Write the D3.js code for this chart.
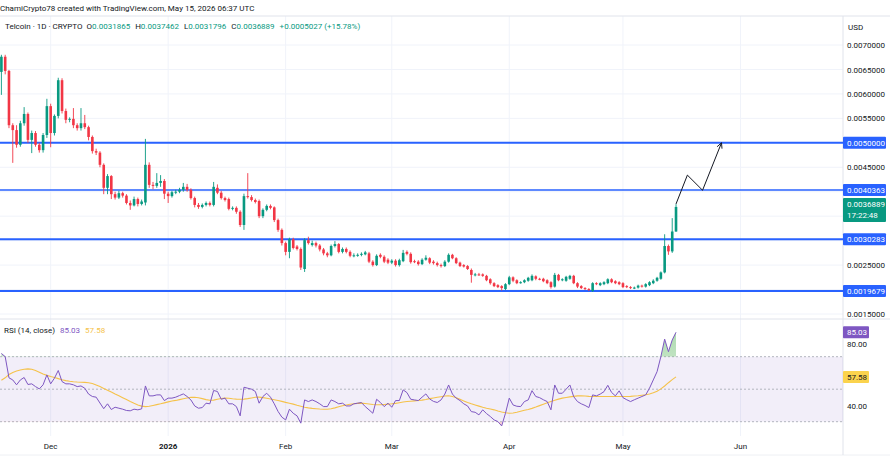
<!DOCTYPE html>
<html>
<head>
<meta charset="utf-8">
<script src="https://cdn.jsdelivr.net/npm/d3@7"></script>
<style>
    body { margin: 0; background: #ffffff; }
    svg { display: block; font-family: Roboto, "Liberation Sans", sans-serif; }
</style>
</head>
<body>
<div id="graf"></div>
<script>
// Datos (Telcoin, velas diarias)
const fechaInicio = '2025-11-18'

// [apertura, máximo, mínimo, cierre]
const velas = [
    [0.00645, 0.00680, 0.00598, 0.00676], [0.00676, 0.00680, 0.00640, 0.00647], [0.00647, 0.00649, 0.00530, 0.00536],
    [0.00536, 0.00540, 0.00459, 0.00526], [0.00526, 0.00536, 0.00490, 0.00496], [0.00496, 0.00545, 0.00492, 0.00540],
    [0.00540, 0.00573, 0.00535, 0.00559], [0.00559, 0.00562, 0.00500, 0.00506], [0.00506, 0.00525, 0.00479, 0.00520],
    [0.00520, 0.00524, 0.00492, 0.00496], [0.00496, 0.00500, 0.00480, 0.00485], [0.00485, 0.00520, 0.00480, 0.00516],
    [0.00516, 0.00590, 0.00510, 0.00575], [0.00575, 0.00580, 0.00491, 0.00520], [0.00520, 0.00558, 0.00515, 0.00555],
    [0.00555, 0.00633, 0.00550, 0.00628], [0.00628, 0.00632, 0.00560, 0.00565], [0.00565, 0.00570, 0.00540, 0.00547],
    [0.00547, 0.00552, 0.00542, 0.00549], [0.00549, 0.00571, 0.00530, 0.00536], [0.00536, 0.00540, 0.00525, 0.00530],
    [0.00530, 0.00571, 0.00525, 0.00540], [0.00540, 0.00557, 0.00528, 0.00532], [0.00532, 0.00535, 0.00505, 0.00512],
    [0.00512, 0.00515, 0.00478, 0.00483], [0.00483, 0.00488, 0.00475, 0.00480], [0.00480, 0.00483, 0.00450, 0.00455],
    [0.00455, 0.00458, 0.00395, 0.00408], [0.00408, 0.00436, 0.00395, 0.00432], [0.00432, 0.00434, 0.00385, 0.00395],
    [0.00395, 0.00400, 0.00384, 0.00388], [0.00388, 0.00402, 0.00385, 0.00397], [0.00397, 0.00400, 0.00388, 0.00392],
    [0.00392, 0.00395, 0.00374, 0.00377], [0.00377, 0.00382, 0.00363, 0.00372], [0.00372, 0.00390, 0.00370, 0.00385],
    [0.00385, 0.00388, 0.00370, 0.00375], [0.00375, 0.00384, 0.00372, 0.00380], [0.00378, 0.00508, 0.00372, 0.00455],
    [0.00455, 0.00460, 0.00408, 0.00414], [0.00414, 0.00420, 0.00405, 0.00412], [0.00412, 0.00438, 0.00408, 0.00418],
    [0.00418, 0.00434, 0.00410, 0.00422], [0.00422, 0.00426, 0.00385, 0.00396], [0.00396, 0.00400, 0.00377, 0.00391],
    [0.00391, 0.00402, 0.00388, 0.00399], [0.00399, 0.00404, 0.00395, 0.00400], [0.00400, 0.00408, 0.00397, 0.00404],
    [0.00404, 0.00418, 0.00400, 0.00410], [0.00410, 0.00416, 0.00400, 0.00404], [0.00404, 0.00407, 0.00384, 0.00387],
    [0.00387, 0.00390, 0.00368, 0.00373], [0.00373, 0.00377, 0.00365, 0.00369], [0.00369, 0.00376, 0.00366, 0.00373],
    [0.00373, 0.00380, 0.00370, 0.00377], [0.00377, 0.00380, 0.00370, 0.00373], [0.00373, 0.00420, 0.00370, 0.00410],
    [0.00408, 0.00415, 0.00395, 0.00398], [0.00398, 0.00402, 0.00384, 0.00387], [0.00387, 0.00390, 0.00380, 0.00383],
    [0.00385, 0.00388, 0.00362, 0.00365], [0.00365, 0.00370, 0.00362, 0.00367], [0.00367, 0.00370, 0.00355, 0.00359],
    [0.00359, 0.00362, 0.00328, 0.00332], [0.00332, 0.00396, 0.00322, 0.00391], [0.00391, 0.00438, 0.00386, 0.00389],
    [0.00389, 0.00393, 0.00380, 0.00383], [0.00383, 0.00386, 0.00376, 0.00379], [0.00381, 0.00384, 0.00346, 0.00350],
    [0.00350, 0.00366, 0.00346, 0.00363], [0.00363, 0.00374, 0.00360, 0.00371], [0.00371, 0.00374, 0.00364, 0.00367],
    [0.00368, 0.00370, 0.00338, 0.00342], [0.00342, 0.00345, 0.00318, 0.00322], [0.00322, 0.00325, 0.00290, 0.00295],
    [0.00295, 0.00298, 0.00270, 0.00277], [0.00277, 0.00306, 0.00264, 0.00303], [0.00303, 0.00306, 0.00282, 0.00285],
    [0.00288, 0.00291, 0.00280, 0.00283], [0.00283, 0.00286, 0.00240, 0.00245], [0.00242, 0.00305, 0.00236, 0.00301],
    [0.00301, 0.00308, 0.00292, 0.00295], [0.00291, 0.00300, 0.00288, 0.00295], [0.00295, 0.00298, 0.00286, 0.00290],
    [0.00290, 0.00293, 0.00278, 0.00282], [0.00282, 0.00285, 0.00270, 0.00274], [0.00274, 0.00277, 0.00266, 0.00270],
    [0.00270, 0.00292, 0.00268, 0.00289], [0.00289, 0.00299, 0.00286, 0.00293], [0.00293, 0.00295, 0.00274, 0.00277],
    [0.00277, 0.00286, 0.00274, 0.00283], [0.00283, 0.00286, 0.00274, 0.00277], [0.00277, 0.00280, 0.00266, 0.00269],
    [0.00269, 0.00274, 0.00266, 0.00270], [0.00270, 0.00274, 0.00267, 0.00271], [0.00271, 0.00276, 0.00268, 0.00273],
    [0.00272, 0.00279, 0.00270, 0.00276], [0.00274, 0.00277, 0.00254, 0.00257], [0.00257, 0.00260, 0.00247, 0.00250],
    [0.00250, 0.00272, 0.00248, 0.00269], [0.00271, 0.00274, 0.00264, 0.00267], [0.00267, 0.00270, 0.00254, 0.00257],
    [0.00261, 0.00264, 0.00252, 0.00255], [0.00255, 0.00262, 0.00252, 0.00259], [0.00259, 0.00262, 0.00247, 0.00250],
    [0.00250, 0.00263, 0.00247, 0.00260], [0.00258, 0.00281, 0.00256, 0.00275], [0.00277, 0.00280, 0.00270, 0.00273],
    [0.00273, 0.00276, 0.00253, 0.00256], [0.00258, 0.00261, 0.00254, 0.00256], [0.00257, 0.00260, 0.00249, 0.00252],
    [0.00252, 0.00264, 0.00250, 0.00261], [0.00261, 0.00270, 0.00259, 0.00265], [0.00264, 0.00266, 0.00252, 0.00255],
    [0.00257, 0.00260, 0.00251, 0.00254], [0.00254, 0.00257, 0.00247, 0.00250], [0.00250, 0.00253, 0.00245, 0.00248],
    [0.00248, 0.00260, 0.00246, 0.00257], [0.00257, 0.00274, 0.00255, 0.00271], [0.00271, 0.00273, 0.00262, 0.00264],
    [0.00264, 0.00266, 0.00252, 0.00254], [0.00255, 0.00257, 0.00246, 0.00248], [0.00250, 0.00252, 0.00245, 0.00247],
    [0.00248, 0.00250, 0.00240, 0.00242], [0.00240, 0.00243, 0.00214, 0.00230], [0.00230, 0.00234, 0.00227, 0.00231],
    [0.00231, 0.00234, 0.00228, 0.00230], [0.00231, 0.00233, 0.00226, 0.00228], [0.00228, 0.00230, 0.00217, 0.00219],
    [0.00221, 0.00223, 0.00210, 0.00213], [0.00213, 0.00215, 0.00205, 0.00207], [0.00209, 0.00211, 0.00203, 0.00205],
    [0.00207, 0.00209, 0.00198, 0.00203], [0.00201, 0.00213, 0.00199, 0.00211], [0.00211, 0.00228, 0.00209, 0.00225],
    [0.00225, 0.00227, 0.00215, 0.00218], [0.00219, 0.00221, 0.00211, 0.00213], [0.00214, 0.00217, 0.00212, 0.00215],
    [0.00215, 0.00221, 0.00213, 0.00219], [0.00218, 0.00226, 0.00216, 0.00224], [0.00219, 0.00231, 0.00217, 0.00228],
    [0.00227, 0.00229, 0.00219, 0.00222], [0.00222, 0.00224, 0.00219, 0.00221], [0.00222, 0.00224, 0.00215, 0.00217],
    [0.00219, 0.00221, 0.00211, 0.00213], [0.00215, 0.00217, 0.00202, 0.00205], [0.00206, 0.00234, 0.00204, 0.00230],
    [0.00230, 0.00232, 0.00217, 0.00219], [0.00220, 0.00223, 0.00217, 0.00221], [0.00218, 0.00228, 0.00216, 0.00226],
    [0.00222, 0.00230, 0.00220, 0.00228], [0.00228, 0.00230, 0.00211, 0.00213], [0.00213, 0.00215, 0.00203, 0.00206],
    [0.00207, 0.00209, 0.00201, 0.00203], [0.00203, 0.00205, 0.00199, 0.00201], [0.00201, 0.00203, 0.00197, 0.00199],
    [0.00197, 0.00215, 0.00195, 0.00213], [0.00213, 0.00215, 0.00209, 0.00211], [0.00209, 0.00215, 0.00207, 0.00213],
    [0.00211, 0.00217, 0.00209, 0.00215], [0.00213, 0.00223, 0.00211, 0.00221], [0.00221, 0.00223, 0.00213, 0.00215],
    [0.00217, 0.00219, 0.00211, 0.00213], [0.00215, 0.00217, 0.00209, 0.00211], [0.00213, 0.00215, 0.00203, 0.00205],
    [0.00207, 0.00209, 0.00203, 0.00205], [0.00205, 0.00207, 0.00201, 0.00203], [0.00203, 0.00206, 0.00201, 0.00204],
    [0.00204, 0.00210, 0.00202, 0.00208], [0.00208, 0.00210, 0.00204, 0.00207], [0.00206, 0.00213, 0.00204, 0.00211],
    [0.00209, 0.00217, 0.00207, 0.00215], [0.00213, 0.00221, 0.00211, 0.00218], [0.00218, 0.00226, 0.00216, 0.00224],
    [0.00222, 0.00237, 0.00220, 0.00235], [0.00235, 0.00313, 0.00233, 0.00289], [0.00289, 0.00292, 0.00271, 0.00278],
    [0.00278, 0.00346, 0.00275, 0.0031865], [0.0031865, 0.0037462, 0.0031796, 0.0036889]
]

const rsi = [
    72, 70, 57, 55.7, 52.7, 55.7, 57.2, 52.9, 53.3, 51.6, 50.2, 52.7, 58.8, 53.3, 56.8, 61.5, 54.7, 53.3, 53.3, 52.7,
    51.6, 52, 50.6, 47, 45.5, 45.1, 41.5, 38, 41, 37.5, 38.9, 38.3, 37.7, 36.9, 36.7, 37.7, 37.3, 37.9, 52, 45.9,
    45.9, 46.5, 46.5, 43, 44.5, 44.5, 45.1, 46.1, 47.1, 45.5, 43.4, 39.7, 38.3, 38.7, 41.4, 41, 49.2, 48.6, 43.8, 44.5,
    41, 41, 39.3, 33.6, 51.2, 50.6, 50, 48.6, 41.4, 45.5, 47.5, 45.1, 41, 36.3, 32.8, 31.1, 37.7, 35.2, 33.6, 29.1,
    43.4, 42.4, 43.4, 42.4, 41, 39.3, 39.3, 43.4, 42.4, 41, 41.4, 39.7, 39.7, 41, 41.4, 41.8, 39.3, 37.3, 35.2, 43.8,
    41.8, 39.3, 41.4, 38.9, 43, 43, 49.6, 47.9, 43.8, 43.4, 43, 45.1, 47.1, 44, 42.5, 41.8, 43.4, 47, 52.6, 47,
    44.5, 43, 41, 39.7, 36.2, 35.8, 34.2, 37.3, 35, 33.2, 31.1, 30.1, 27.4, 35.2, 44.5, 40.3, 39.5, 39.3, 42.4, 43.4,
    49.1, 45.5, 44.8, 43.5, 42.4, 37.3, 52.6, 47.5, 47.5, 50, 52.6, 45.4, 42.4, 41, 40, 38.7, 46.5, 45.9, 47, 48.5,
    52.4, 48, 45.9, 49, 44.8, 43.5, 42.4, 43.5, 44.5, 45.5, 46.5, 50.6, 55.7, 60.8, 70, 80.8, 73.1, 80.3, 85.03
]
const rsiMedia = [
    55.5, 57, 59, 60.3, 61.2, 61.8, 62.3, 62.5, 62.3, 61.5, 60.5, 59.3, 58.5, 57.8, 57.2, 56.5, 55.8, 55.3, 54.9, 54.6,
    54.4, 54.3, 54.2, 54, 53.5, 52.6, 51.6, 50.5, 49.4, 48.3, 47.1, 46, 44.8, 43.6, 42.4, 41.3, 40.3, 39.6, 39.3, 39.5,
    40, 40.5, 41, 41.6, 42.2, 42.7, 43.1, 43.6, 44.1, 44.6, 45, 45, 44.7, 44.2, 43.6, 43.2, 43.3, 43.8, 44.3, 44.5,
    44.4, 44.1, 43.9, 43.8, 43.9, 44.2, 44.6, 45, 45.1, 44.8, 44.4, 44, 43.5, 43, 42.5, 41.9, 41.4, 40.8, 40.1, 39.5,
    38.9, 38.5, 38.2, 38, 37.8, 37.7, 37.7, 38, 38.5, 39.2, 39.8, 40.3, 40.7, 41, 41.3, 41.4, 41.2, 40.9, 40.6, 40.4,
    40.4, 40.6, 40.8, 41, 41.3, 41.7, 42.1, 42.4, 42.6, 42.8, 43, 43.3, 43.7, 44.2, 44.6, 45, 45.4, 45.8, 46, 45.5,
    44.8, 43.8, 42.8, 41.8, 41, 40.3, 39.6, 38.9, 38.3, 37.8, 37.3, 36.6, 36, 35.5, 35.2, 35.4, 35.8, 36.4, 37, 37.5,
    38.2, 39, 39.9, 40.8, 41.6, 42.4, 43.2, 43.9, 44.5, 44.9, 45.3, 45.6, 45.9, 45.9, 45.8, 45.6, 45.5, 45.5, 45.5, 45.5,
    45.5, 45.5, 45.5, 45.5, 45.5, 45.5, 45.6, 45.8, 46, 46.3, 46.6, 47, 47.8, 48.8, 50.2, 52, 54, 55.9, 57.58
]

// Niveles horizontales dibujados y ejes
const nivelesPrecio = [0.0050000, 0.0040363, 0.0030283, 0.0019679]
const grosorNiveles = [2, 1.5, 2, 2]
const ticksPrecio = [0.0015, 0.0020, 0.0025, 0.0030, 0.0035, 0.0040, 0.0045, 0.0050, 0.0055, 0.0060, 0.0065, 0.0070]
const ticksRsi = [40, 60, 80]
const nivelesRsi = [70, 50, 30]
const fechasMes = ['2025-12-01', '2026-01-01', '2026-02-01', '2026-03-01', '2026-04-01', '2026-05-01', '2026-06-01']
const etiquetasMes = ['Dec', '2026', 'Feb', 'Mar', 'Apr', 'May', 'Jun']

// Trayectoria proyectada (flecha)
const flechaFechas = ['2026-05-15', '2026-05-18', '2026-05-22', '2026-05-27']
const flechaPrecios = [0.00375, 0.00434, 0.00403, 0.00500]

// Valores de la cabecera y etiquetas actuales
const ultimoPrecio = 0.0036889
const cambioDia = 0.0005027
const cambioPct = 15.78
const cuentaAtras = '17:22:48'
const rsiActual = 85.03
const mediaActual = 57.58

function load() {
    // Configuración de tamaños
    const ancho = 890
    const alto = 460
    const ejeX = 843
    const separacionDia = 3.79
    const primeraVela = 1.4
    const panelTop = 16
    const panelRsiTop = 319
    const panelRsiBottom = 436

    const verde = '#089981'
    const rojo = '#f23645'
    const azul = '#2962ff'
    const morado = '#7e57c2'
    const amarillo = '#f5c24a'
    const texto = '#131722'
    const rejilla = '#f0f3fa'

    const parse = d3.utcParse('%Y-%m-%d')
    const inicio = parse(fechaInicio)
    const fechas = velas.map((d, i) => d3.utcDay.offset(inicio, i))

    const svg = d3.select('#graf')
        .append('svg')
        .attr('width', ancho)
        .attr('height', alto)

    const x = d3.scaleUtc()
        .domain([inicio, fechas[fechas.length - 1]])
        .range([primeraVela, primeraVela + (fechas.length - 1) * separacionDia])

    const y = d3.scaleLinear()
        .domain([0.0015, 0.0070])
        .range([314, 45])

    const yR = d3.scaleLinear()
        .domain([30, 70])
        .range([421.7, 356.7])

    const defs = svg.append('defs')
    defs.append('clipPath').attr('id', 'clipPrecio')
        .append('rect').attr('x', 0).attr('y', panelTop).attr('width', ejeX).attr('height', panelRsiTop - panelTop)
    defs.append('clipPath').attr('id', 'clipArriba')
        .append('rect').attr('x', 0).attr('y', panelRsiTop).attr('width', ejeX).attr('height', yR(70) - panelRsiTop)
    defs.append('clipPath').attr('id', 'clipAbajo')
        .append('rect').attr('x', 0).attr('y', yR(30)).attr('width', ejeX).attr('height', panelRsiBottom - yR(30))
    const grad = defs.append('linearGradient').attr('id', 'gradVerde')
        .attr('x1', 0).attr('y1', 0).attr('x2', 0).attr('y2', 1)
    grad.append('stop').attr('offset', '0%').attr('stop-color', 'rgba(76,175,80,0.45)')
    grad.append('stop').attr('offset', '100%').attr('stop-color', 'rgba(76,175,80,0.08)')
    defs.append('marker').attr('id', 'punta')
        .attr('viewBox', '0 0 8 8').attr('refX', 7).attr('refY', 4)
        .attr('markerWidth', 7).attr('markerHeight', 7).attr('orient', 'auto')
        .append('path').attr('d', 'M1,1 L7,4 L1,7')
        .attr('fill', 'none').attr('stroke', texto).attr('stroke-width', 1)

    // Rejilla
    const fechasTick = fechasMes.map(parse)
    svg.append('g').selectAll('line').data(fechasTick).join('line')
        .attr('x1', d => x(d)).attr('x2', d => x(d))
        .attr('y1', panelTop).attr('y2', panelRsiBottom)
        .attr('stroke', rejilla)
    svg.append('g').selectAll('line').data(ticksPrecio).join('line')
        .attr('x1', 0).attr('x2', ejeX)
        .attr('y1', d => y(d)).attr('y2', d => y(d))
        .attr('stroke', rejilla)

    // Bordes de paneles
    svg.append('line').attr('x1', 0).attr('x2', ancho).attr('y1', panelTop).attr('y2', panelTop).attr('stroke', '#e0e3eb')
    svg.append('line').attr('x1', 0).attr('x2', ancho).attr('y1', panelRsiTop).attr('y2', panelRsiTop).attr('stroke', '#e0e3eb')
    svg.append('line').attr('x1', 0).attr('x2', ancho).attr('y1', 455).attr('y2', 455).attr('stroke', '#eef0f4')
    svg.append('line').attr('x1', ejeX).attr('x2', ejeX).attr('y1', panelTop).attr('y2', 455).attr('stroke', '#e0e3eb')

    // Niveles horizontales
    svg.append('g').selectAll('line').data(nivelesPrecio).join('line')
        .attr('x1', 0).attr('x2', ejeX)
        .attr('y1', d => y(d)).attr('y2', d => y(d))
        .attr('stroke', azul)
        .attr('stroke-width', (d, i) => grosorNiveles[i])

    // Velas
    const gVelas = svg.append('g').attr('clip-path', 'url(#clipPrecio)')
    const anchoVela = 2.6
    gVelas.selectAll('line').data(velas).join('line')
        .attr('x1', (d, i) => x(fechas[i])).attr('x2', (d, i) => x(fechas[i]))
        .attr('y1', d => y(d[1])).attr('y2', d => y(d[2]))
        .attr('stroke', d => d[3] >= d[0] ? verde : rojo)
        .attr('stroke-width', 0.9)
    gVelas.selectAll('rect').data(velas).join('rect')
        .attr('x', (d, i) => x(fechas[i]) - anchoVela / 2)
        .attr('width', anchoVela)
        .attr('y', d => y(Math.max(d[0], d[3])))
        .attr('height', d => Math.max(1, Math.abs(y(d[0]) - y(d[3]))))
        .attr('fill', d => d[3] >= d[0] ? verde : rojo)

    // Flecha proyectada
    const puntosFlecha = flechaFechas.map((f, i) => [parse(f), flechaPrecios[i]])
    svg.append('path')
        .datum(puntosFlecha)
        .attr('d', d3.line().x(d => x(d[0])).y(d => y(d[1])))
        .attr('fill', 'none')
        .attr('stroke', texto)
        .attr('stroke-width', 1)
        .attr('marker-end', 'url(#punta)')

    // Panel RSI
    svg.append('rect')
        .attr('x', 0).attr('width', ejeX)
        .attr('y', yR(70)).attr('height', yR(30) - yR(70))
        .attr('fill', 'rgba(126,87,194,0.1)')
    svg.append('g').selectAll('line').data(nivelesRsi).join('line')
        .attr('x1', 0).attr('x2', ejeX)
        .attr('y1', d => yR(d)).attr('y2', d => yR(d))
        .attr('stroke', '#b2b5be')
        .attr('stroke-dasharray', '2,2')

    const areaRsi = d3.area()
        .x((d, i) => x(fechas[i]))
        .y0(yR(70))
        .y1(d => yR(d))
    svg.append('path').datum(rsi)
        .attr('d', areaRsi)
        .attr('fill', 'url(#gradVerde)')
        .attr('clip-path', 'url(#clipArriba)')
    svg.append('path').datum(rsi)
        .attr('d', areaRsi.y0(yR(30)))
        .attr('fill', 'rgba(242,54,69,0.2)')
        .attr('clip-path', 'url(#clipAbajo)')

    svg.append('path').datum(rsiMedia)
        .attr('d', d3.line().x((d, i) => x(fechas[i])).y(d => yR(d)))
        .attr('fill', 'none').attr('stroke', amarillo).attr('stroke-width', 1.1)
    svg.append('path').datum(rsi)
        .attr('d', d3.line().x((d, i) => x(fechas[i])).y(d => yR(d)))
        .attr('fill', 'none').attr('stroke', morado).attr('stroke-width', 1)

    // Ejes de precio y RSI (se ocultan los ticks que tapan las etiquetas)
    const libre = (pos, cajas) => cajas.every(([a, b]) => pos < a - 5 || pos > b + 5)
    const cajasPrecio = nivelesPrecio.map(v => [y(v) - 6, y(v) + 6]).concat([[y(ultimoPrecio) - 9, y(ultimoPrecio) + 15]])
    const cajasRsi = [[yR(rsiActual) - 6, yR(rsiActual) + 6], [yR(mediaActual) - 6, yR(mediaActual) + 6]]
    const ticksVisibles = ticksPrecio.filter(t => libre(y(t), cajasPrecio))
    const ticksRsiVisibles = ticksRsi.filter(t => libre(yR(t), cajasRsi.slice(1)))

    const ejePrecio = svg.append('g')
        .attr('transform', `translate(${ejeX}, 0)`)
        .call(d3.axisRight(y).tickValues(ticksVisibles).tickSize(0).tickPadding(4).tickFormat(d3.format('.7f')))
    const ejeRsi = svg.append('g')
        .attr('transform', `translate(${ejeX}, 0)`)
        .call(d3.axisRight(yR).tickValues(ticksRsiVisibles).tickSize(0).tickPadding(4).tickFormat(d3.format('.2f')))
    ;[ejePrecio, ejeRsi].forEach(g => {
        g.select('.domain').remove()
        g.selectAll('text').attr('fill', texto).style('font-size', '8px').style('font-family', 'Roboto, sans-serif')
    })
    // 80.00 queda justo debajo de la caja morada
    ejeRsi.selectAll('.tick text').attr('dy', d => d === 80 ? '0.75em' : '0.32em')

    svg.append('text').attr('x', 848).attr('y', 30).text('USD')
        .attr('fill', texto).style('font-size', '8px')

    // Etiquetas de niveles en el eje
    const cajas = svg.append('g')
    nivelesPrecio.forEach(v => {
        cajas.append('rect').attr('x', ejeX).attr('y', y(v) - 6).attr('width', 43).attr('height', 12)
            .attr('fill', azul).attr('rx', 1)
        cajas.append('text').attr('x', ejeX + 4).attr('y', y(v)).attr('dy', '0.35em')
            .text(d3.format('.7f')(v)).attr('fill', '#ffffff').style('font-size', '8px')
    })
    cajas.append('rect').attr('x', ejeX).attr('y', y(ultimoPrecio) - 9).attr('width', 43).attr('height', 24)
        .attr('fill', verde).attr('rx', 1)
    cajas.append('text').attr('x', ejeX + 4).attr('y', y(ultimoPrecio) - 3).attr('dy', '0.35em')
        .text(d3.format('.7f')(ultimoPrecio)).attr('fill', '#ffffff').style('font-size', '8px')
    cajas.append('text').attr('x', ejeX + 4).attr('y', y(ultimoPrecio) + 8).attr('dy', '0.35em')
        .text(cuentaAtras).attr('fill', '#ffffff').style('font-size', '8px')

    cajas.append('rect').attr('x', ejeX).attr('y', yR(rsiActual) - 6).attr('width', 26).attr('height', 12)
        .attr('fill', morado).attr('rx', 1)
    cajas.append('text').attr('x', ejeX + 4).attr('y', yR(rsiActual)).attr('dy', '0.35em')
        .text(rsiActual.toFixed(2)).attr('fill', '#ffffff').style('font-size', '8px')
    cajas.append('rect').attr('x', ejeX).attr('y', yR(mediaActual) - 6).attr('width', 26).attr('height', 12)
        .attr('fill', '#fbd34d').attr('rx', 1)
    cajas.append('text').attr('x', ejeX + 4).attr('y', yR(mediaActual)).attr('dy', '0.35em')
        .text(mediaActual.toFixed(2)).attr('fill', texto).style('font-size', '8px')

    // Eje de tiempo
    svg.append('g').selectAll('text').data(fechasTick).join('text')
        .attr('x', d => x(d)).attr('y', 449)
        .attr('text-anchor', 'middle')
        .text((d, i) => etiquetasMes[i])
        .attr('fill', texto)
        .style('font-size', '8px')
        .style('font-weight', (d, i) => etiquetasMes[i] === '2026' ? 700 : 400)

    // Encabezados
    svg.append('text').attr('x', 0).attr('y', 11)
        .text('ChamiCrypto78 created with TradingView.com, May 15, 2026 06:37 UTC')
        .attr('fill', texto).style('font-size', '8px')

    const ult = velas[velas.length - 1]
    const cabecera = svg.append('text').attr('x', 5).attr('y', 29).style('font-size', '8px').attr('fill', texto)
    cabecera.append('tspan').text('Telcoin · 1D · CRYPTO')
    const campos = [['O', ult[0]], ['H', ult[1]], ['L', ult[2]], ['C', ult[3]]]
    campos.forEach(([k, v], i) => {
        cabecera.append('tspan').attr('dx', i === 0 ? 4 : 5).text(k).attr('fill', texto)
        cabecera.append('tspan').text(d3.format('.7f')(v)).attr('fill', verde)
    })
    cabecera.append('tspan').attr('dx', 5)
        .text(`+${d3.format('.7f')(cambioDia)} (+${d3.format('.2f')(cambioPct)}%)`)
        .attr('fill', verde)

    const etiquetaRsi = svg.append('text').attr('x', 4).attr('y', 333).style('font-size', '8px')
    etiquetaRsi.append('tspan').text('RSI (14, close)').attr('fill', texto)
    etiquetaRsi.append('tspan').attr('dx', 5).text(rsiActual.toFixed(2)).attr('fill', morado)
    etiquetaRsi.append('tspan').attr('dx', 5).text(mediaActual.toFixed(2)).attr('fill', amarillo)
}

load()
</script>
</body>
</html>
